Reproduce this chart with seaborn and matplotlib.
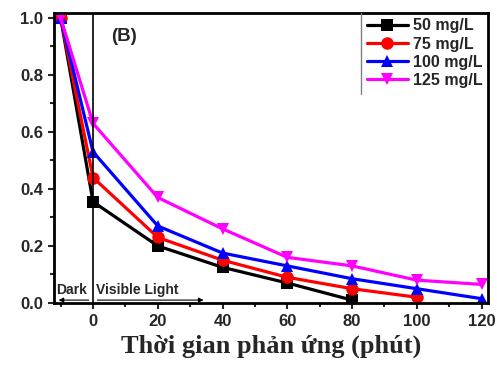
import matplotlib
matplotlib.use("Agg")
import matplotlib.pyplot as plt
import seaborn as sns
import pandas as pd
from matplotlib.ticker import MultipleLocator
from matplotlib.lines import Line2D

times = [-10, 0, 20, 40, 60, 80, 100, 120]
c50 = [1.0, 0.355, 0.20, 0.125, 0.07, 0.01]
c75 = [1.0, 0.44, 0.23, 0.15, 0.09, 0.05, 0.02]
c100 = [1.0, 0.53, 0.27, 0.175, 0.13, 0.085, 0.05, 0.015]
c125 = [1.0, 0.63, 0.37, 0.26, 0.16, 0.13, 0.08, 0.065]
labels = ["50 mg/L", "75 mg/L", "100 mg/L", "125 mg/L"]
colors = ["black", "red", "blue", "magenta"]
markers = ["s", "o", "^", "v"]

rows = []
for lab, vals in zip(labels, [c50, c75, c100, c125]):
    for t, v in zip(times, vals):
        rows.append({"t": t, "v": v, "s": lab})
df = pd.DataFrame(rows)

sns.set_theme(style="ticks")
plt.rcParams['font.family'] = ['Liberation Sans', 'DejaVu Sans']

fig = plt.figure(figsize=(4.97, 3.65), dpi=100)
ax = fig.add_axes([0.109, 0.17, 0.873, 0.795])

sns.lineplot(data=df, x="t", y="v", hue="s", style="s", palette=colors,
             markers=markers, dashes=False, markersize=9, linewidth=2.3,
             markeredgewidth=0, ax=ax, legend=True, sort=False)

ax.axvline(0, color="black", lw=1.2)
ax.set_xlim(-12, 122)
ax.set_ylim(0, 1.018)
ax.set_xticks([0, 20, 40, 60, 80, 100, 120])
ax.xaxis.set_minor_locator(MultipleLocator(10))
ax.set_yticks([0.0, 0.2, 0.4, 0.6, 0.8, 1.0])
ax.yaxis.set_minor_locator(MultipleLocator(0.1))
ax.tick_params(axis="both", which="major", direction="out", length=4, width=1.5,
               labelsize=12, pad=4)
ax.tick_params(axis="both", which="minor", direction="out", length=3, width=1.5)
for lbl in ax.get_xticklabels() + ax.get_yticklabels():
    lbl.set_fontweight("bold")
for sp in ax.spines.values():
    sp.set_linewidth(2)
    sp.set_color("black")

ax.set_xlabel("Thời gian phản ứng (phút)", family=["Liberation Serif", "DejaVu Serif"],
              fontsize=19, fontweight="bold", labelpad=4)
ax.set_ylabel("")

ax.text(5.5, 0.92, "(B)", fontsize=13.5, fontweight="bold")
ax.text(-11.3, 0.03, "Dark", fontsize=10, fontweight="bold")
ax.text(1.0, 0.03, "Visible Light", fontsize=10, fontweight="bold")
ax.annotate("", xy=(-11.5, 0.01), xytext=(-0.5, 0.01),
            arrowprops=dict(arrowstyle="-|>", color="black", lw=0.8, mutation_scale=7))
ax.annotate("", xy=(35, 0.01), xytext=(0.5, 0.01),
            arrowprops=dict(arrowstyle="-|>", color="black", lw=0.8, mutation_scale=7))

leg = ax.legend(loc="upper right", prop={"weight": "bold", "size": 11.5},
                frameon=False, borderaxespad=0, handlelength=2.6,
                handletextpad=0.3, labelspacing=0.2, borderpad=0.35)

fig.canvas.draw()
bb = leg.get_window_extent().transformed(fig.transFigure.inverted())
fig.add_artist(Line2D([bb.x0, bb.x0], [bb.y0, bb.y1], color="gray", lw=1,
                      transform=fig.transFigure))

fig.savefig("out.png", dpi=100)
